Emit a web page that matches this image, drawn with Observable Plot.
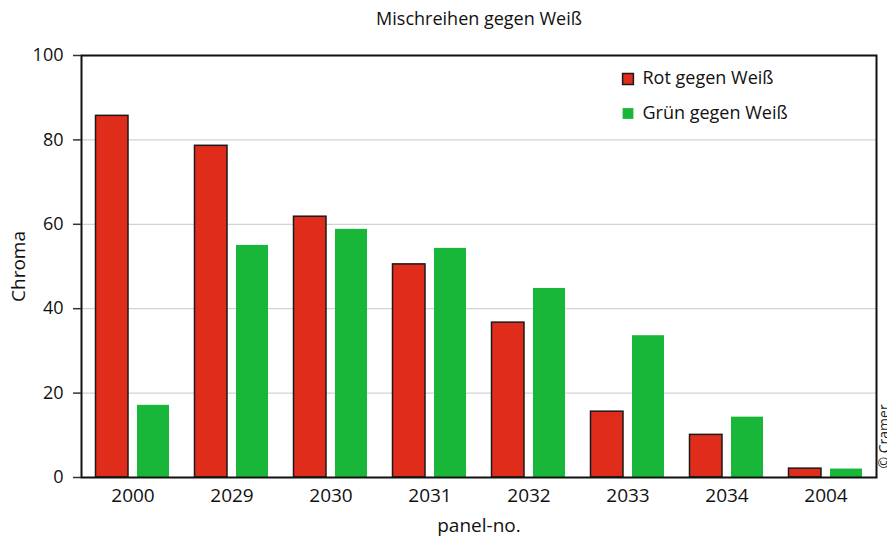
<!DOCTYPE html>
<html>
<head>
<meta charset="utf-8">
<script src="https://cdn.jsdelivr.net/npm/d3@7"></script>
<script src="https://cdn.jsdelivr.net/npm/@observablehq/plot@0.6"></script>
<style>
  html, body { margin: 0; padding: 0; background: #fff; }
</style>
</head>
<body>
<div id="chart"></div>
<script>
const panels = ["2000", "2029", "2030", "2031", "2032", "2033", "2034", "2004"];
const rot = [85.7, 78.6, 61.8, 50.5, 36.7, 15.6, 10.1, 2.1];
const gruen = [17.1, 55.0, 58.8, 54.3, 44.8, 33.6, 14.3, 2.0];
const seriesNames = ["Rot gegen Weiß", "Grün gegen Weiß"];
const yTicks = [0, 20, 40, 60, 80, 100];
const title = "Mischreihen gegen Weiß";
const xLabel = "panel-no.";
const yLabel = "Chroma";
const credit = "© Cramer";

const RED = "#e02c1b";
const GREEN = "#18b73a";
const FONT = "'Open Sans', 'Noto Sans', sans-serif";

const data = panels.map((p, i) => ({panel: p, rot: rot[i], gruen: gruen[i]}));

const chart = Plot.plot({
  width: 887,
  height: 539,
  marginLeft: 81,
  marginRight: 11,
  marginTop: 55,
  marginBottom: 62,
  style: {fontFamily: FONT, fontSize: "18px", background: "#fff", color: "#111"},
  x: {domain: panels, padding: 0, label: null},
  y: {domain: [0, 100], label: null},
  marks: [
    Plot.gridY(yTicks.slice(1, -1), {stroke: "#c8c8c8", strokeOpacity: 1, strokeWidth: 1}),
    Plot.barY(data, {x: "panel", y: "rot", fill: RED, stroke: "#1a1a1a", strokeWidth: 1.5, insetLeft: 12.5, insetRight: 54}),
    Plot.barY(data, {x: "panel", y: "gruen", fill: GREEN, insetLeft: 54, insetRight: 13}),
    Plot.frame({stroke: "#111", strokeWidth: 2}),
    Plot.axisY({ticks: yTicks, tickSize: 8, tickPadding: 10, stroke: "#333", strokeWidth: 1.5, fontSize: 18, label: null}),
    Plot.axisX({tickSize: 0, tickPadding: 11, fontSize: 19, label: null}),
    // title
    Plot.text([title], {frameAnchor: "top", dy: -36, fontSize: 18, lineAnchor: "middle", fill: "#111"}),
    // axis labels
    Plot.text([yLabel], {y: [50], frameAnchor: "left", dx: -63, rotate: -90, textAnchor: "middle", fontSize: 19, lineAnchor: "middle", fill: "#111"}),
    Plot.text([xLabel], {frameAnchor: "bottom", dy: 48, fontSize: 19, lineAnchor: "middle", fill: "#111"}),
    // legend
    Plot.dot([seriesNames[0]], {frameAnchor: "top-right", dx: -248.5, dy: 23.5, symbol: "square", r: 6.1, fill: RED, stroke: "#1a1a1a", strokeWidth: 1.5}),
    Plot.dot([seriesNames[1]], {frameAnchor: "top-right", dx: -248.5, dy: 58, symbol: "square", r: 6.1, fill: GREEN, stroke: null}),
    Plot.text([seriesNames[0]], {frameAnchor: "top-right", dx: -234, dy: 23, textAnchor: "start", lineAnchor: "middle", fontSize: 18, fill: "#111"}),
    Plot.text([seriesNames[1]], {frameAnchor: "top-right", dx: -234, dy: 57.5, textAnchor: "start", lineAnchor: "middle", fontSize: 18, fill: "#111"}),
    // credit
    Plot.text([credit], {frameAnchor: "bottom-right", dx: 8, dy: -9, rotate: -90, textAnchor: "start", lineAnchor: "middle", fontSize: 14, fill: "#222"})
  ]
});
document.getElementById("chart").appendChild(chart);
</script>
</body>
</html>
